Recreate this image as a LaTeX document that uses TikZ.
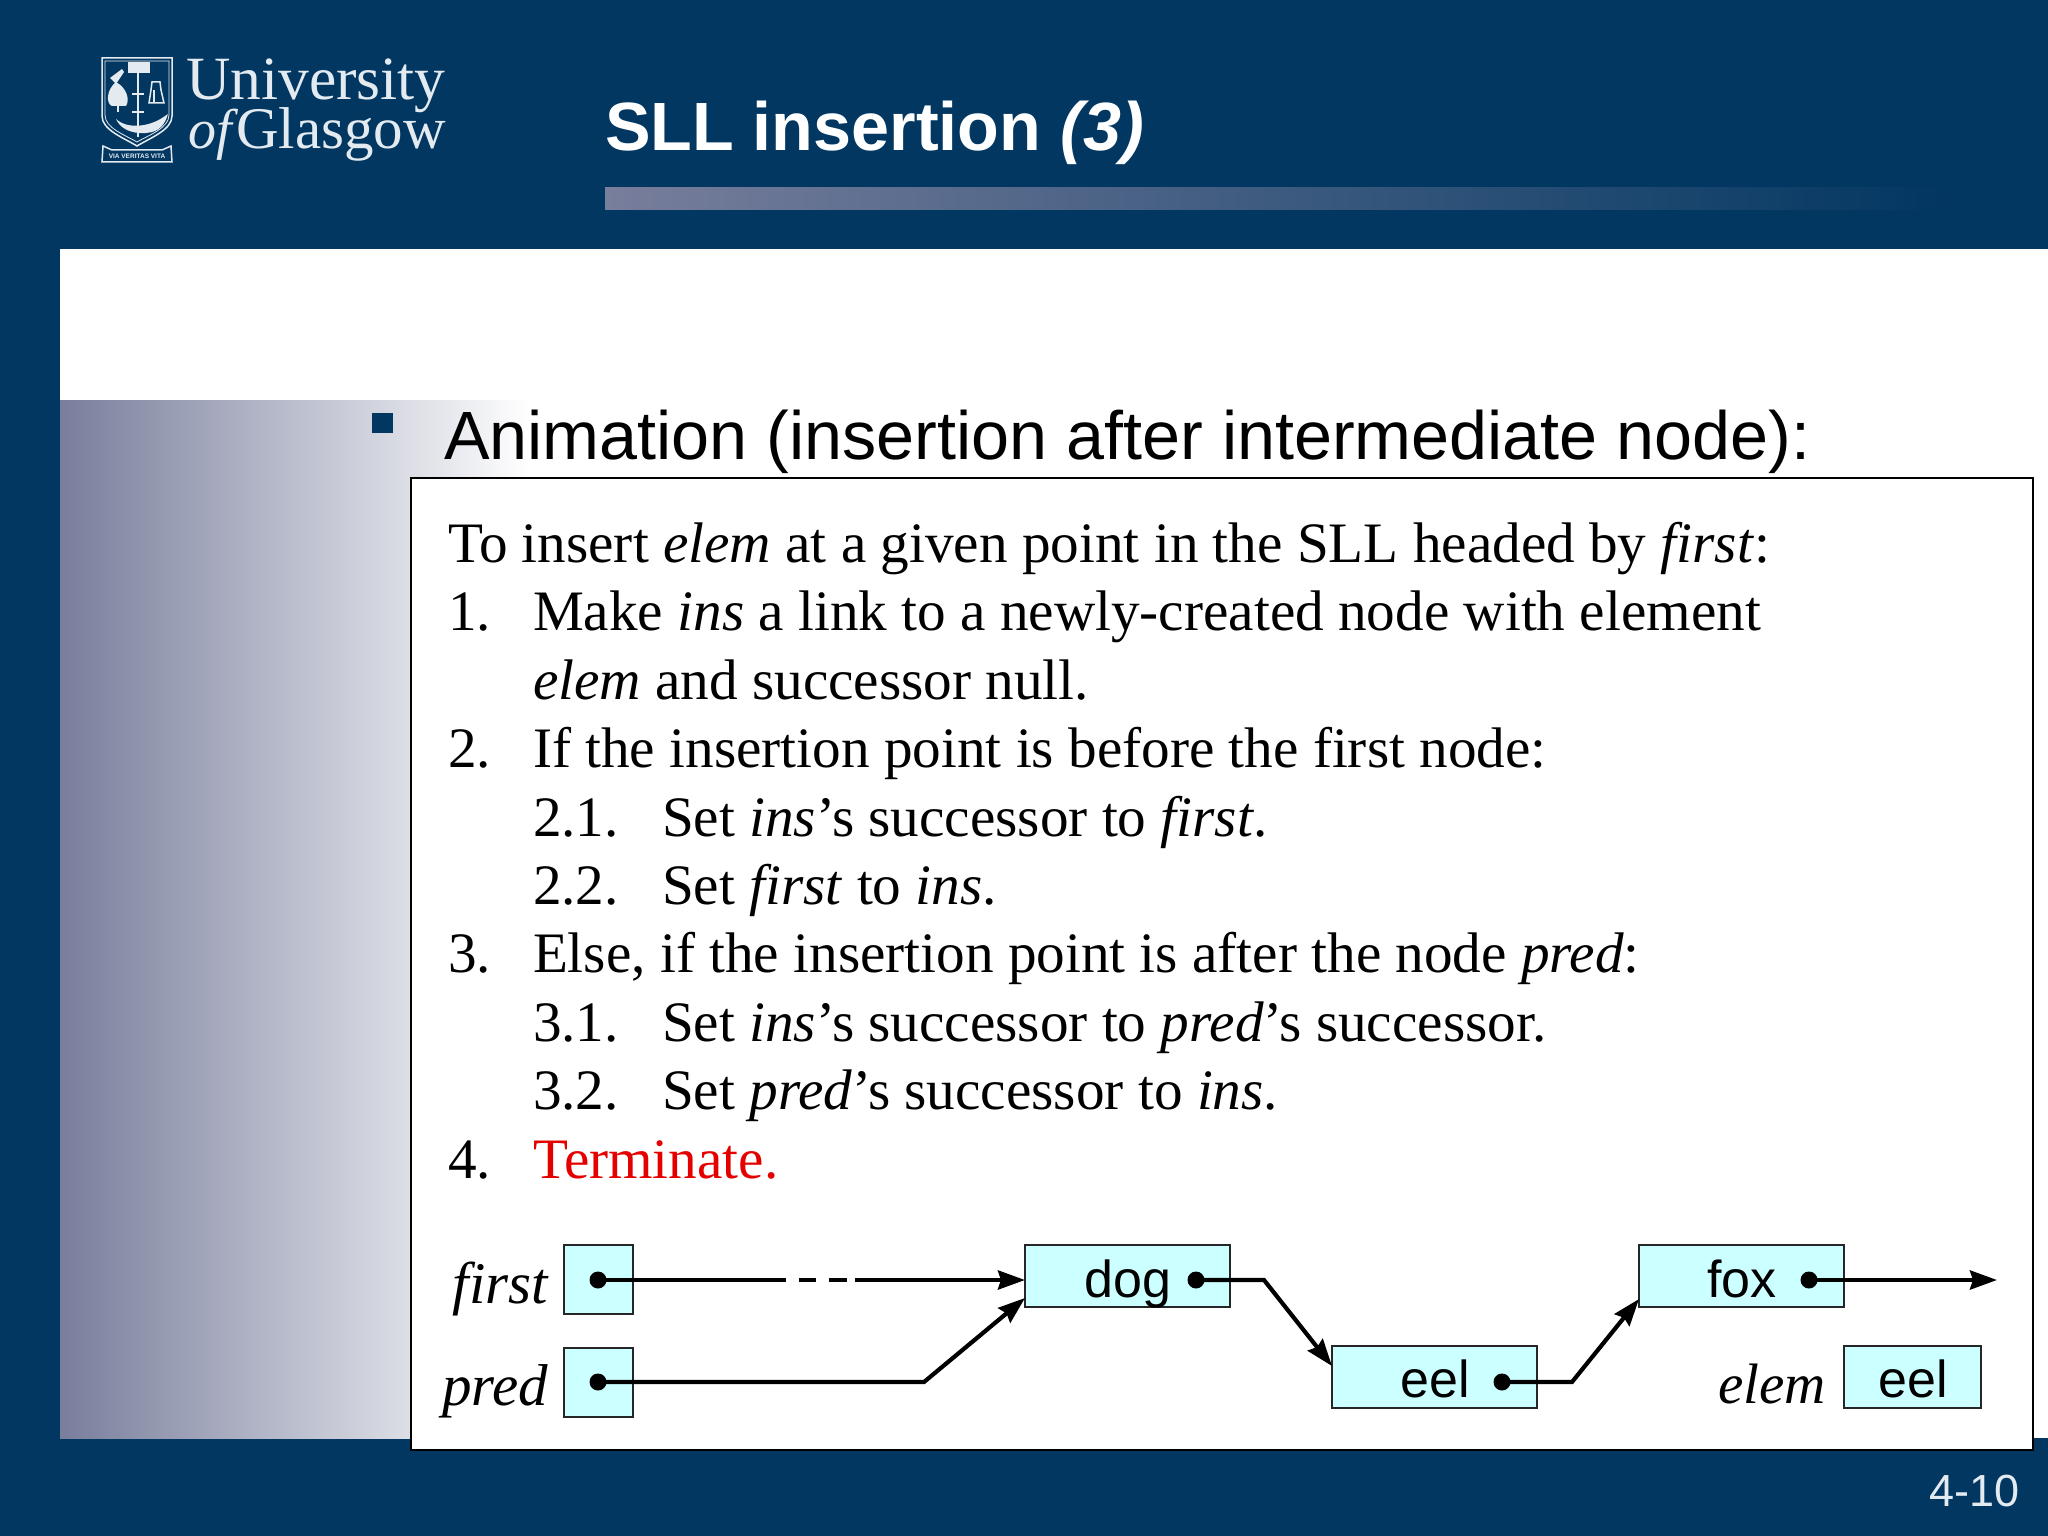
\documentclass[tikz,border=0pt]{standalone}
\usepackage{fontspec}
\setmainfont{Liberation Serif}
\setsansfont{Liberation Sans}
\usetikzlibrary{arrows.meta,calc}
\definecolor{navy}{HTML}{023762}
\definecolor{barblue}{HTML}{787E9C}
\definecolor{cellcyan}{HTML}{CCFFFF}
\definecolor{crest}{HTML}{E3EAF0}
\newcommand{\fsz}[1]{\fontsize{#1}{#1}\selectfont}
\tikzset{
  x=1pt,y=-1pt,
  every node/.style={inner sep=0pt,outer sep=0pt},
  bodyline/.style={anchor=base west,font=\fsz{57.2}\rmfamily,text=black},
  cell/.style={draw=black!85,line width=2.6pt,fill=cellcyan},
  celltext/.style={anchor=base,font=\fsz{52}\sffamily,text=black},
  varname/.style={anchor=base east,font=\fsz{59}\rmfamily\itshape,text=black},
  dotmark/.style={circle,fill=black,minimum size=17pt},
  linkline/.style={line width=4.2pt,black,line join=miter},
  linkarrow/.style={linkline,-{Stealth[length=27pt,width=19pt,inset=3pt]}},
  crestline/.style={draw=crest,line width=1.5pt},
  crestfill/.style={fill=crest},
}
\begin{document}
\begin{tikzpicture}
\useasboundingbox (0,0) rectangle (2048,1536);
% slide background
\fill[navy] (0,0) rectangle (2048,1536);
\fill[white] (60,249) rectangle (2048,1438);
\shade[left color=barblue,right color=white,draw=none] (60,400) rectangle (530,1438);
\shade[left color=barblue,right color=navy,draw=none] (605,187) rectangle (1945,209);
% logo: shield
\draw[crestline] (102,58) -- (172,58) -- (172,116) .. controls (172,130) and (150,138) .. (137,146) .. controls (124,138) and (102,130) .. (102,116) -- cycle;
\draw[crest,line width=.8pt] (105,61) -- (169,61) -- (169,115) .. controls (169,128) and (149,135) .. (137,142) .. controls (125,135) and (105,128) .. (105,115) -- cycle;
% book and stem
\fill[crestfill] (128,62) rectangle (150,73);
\draw[crestline,line width=2.6pt] (138,73) -- (138,137);
\draw[crestline] (132,94) -- (144,94);
\draw[crestline] (132,112) -- (144,112);
% tree and bird
\fill[crestfill] (116,82) .. controls (106,90) and (106,104) .. (112,106) -- (126,106) .. controls (130,100) and (127,88) .. (116,82) -- cycle;
\draw[crestline] (118,104) -- (118,112);
\fill[crestfill] (110,78) -- (122,69) -- (124,72) -- (116,84) -- cycle;
% bell
\draw[crestline] (152,82) -- (160,82) -- (161,90) -- (164,103) -- (149,103) -- (151,90) -- cycle;
\fill[crestfill] (153,90) rectangle (155,103);
% fish
\fill[crestfill] (116,119) .. controls (128,130) and (150,126) .. (162,118) -- (168,114) .. controls (165,124) and (160,132) .. (146,133) .. controls (130,134) and (120,128) .. (116,119) -- cycle;
% motto scroll
\draw[crestline] (103,146) -- (112,150) -- (162,150) -- (171,146) -- (172,162) -- (102,162) -- cycle;
\node[font=\fsz{6.5}\sffamily\bfseries,text=crest] (logomotto) at (137,156.5) {VIA VERITAS VITA};
\node[anchor=base west,font=\fsz{61.5}\rmfamily,text=crest] (logouni) at (186,100) {University};
\node[anchor=base west,font=\fsz{56}\rmfamily\itshape,text=crest] (logoof) at (188,149) {of};
\node[anchor=base west,font=\fsz{59}\rmfamily,text=crest] (logogla) at (236,149) {Glasgow};
% title
\node[anchor=base west,font=\fsz{68.3}\sffamily\bfseries,text=white] (title) at (605,150) {SLL insertion \textit{(3)}};
\node[anchor=base east,font=\fsz{45}\sffamily,text=crest] (pagenum) at (2020,1506) {4-10};
% bullet
\fill[navy] (372,413) rectangle (393,433);
\node[anchor=base west,font=\fsz{68.3}\sffamily,text=black] (heading) at (444,459) {Animation (insertion after intermediate node):};
% algorithm box
\draw[fill=white,draw=black,line width=2.6pt] (411,478) rectangle (2033,1450);
\node[bodyline] (l0) at (448,562.5) {To insert \textit{elem} at a given point in the SLL headed by \textit{first}:};
\node[bodyline] (n1) at (448,630.5) {1.};
\node[bodyline] (l1) at (533,630.5) {Make \textit{ins} a link to a newly-created node with element};
\node[bodyline] (l1b) at (533,699.5) {\textit{elem} and successor null.};
\node[bodyline] (n2) at (448,767.5) {2.};
\node[bodyline] (l2) at (533,767.5) {If the insertion point is before the first node:};
\node[bodyline] (n21) at (533,836.5) {2.1.};
\node[bodyline] (l21) at (662,836.5) {Set \textit{ins}’s successor to \textit{first}.};
\node[bodyline] (n22) at (533,904.5) {2.2.};
\node[bodyline] (l22) at (662,904.5) {Set \textit{first} to \textit{ins}.};
\node[bodyline] (n3) at (448,972.5) {3.};
\node[bodyline] (l3) at (533,972.5) {Else, if the insertion point is after the node \textit{pred}:};
\node[bodyline] (n31) at (533,1041.5) {3.1.};
\node[bodyline] (l31) at (662,1041.5) {Set \textit{ins}’s successor to \textit{pred}’s successor.};
\node[bodyline] (n32) at (533,1109.5) {3.2.};
\node[bodyline] (l32) at (662,1109.5) {Set \textit{pred}’s successor to \textit{ins}.};
\node[bodyline] (n4) at (448,1178) {4.};
\node[bodyline,text=red!90!black] (l4) at (533,1178) {Terminate.};
% cells
\path[cell] (564,1245) rectangle (633,1314);
\path[cell] (564,1348) rectangle (633,1417);
\path[cell] (1025,1245) rectangle (1230,1307);
\path[cell] (1332,1346) rectangle (1537,1408);
\path[cell] (1639,1245) rectangle (1844,1307);
\path[cell] (1844,1346) rectangle (1981,1408);
% labels
\node[varname] (lfirst) at (548,1303) {first};
\node[varname] (lpred) at (548,1405) {pred};
\node[varname,font=\fsz{57}\rmfamily\itshape] (lelem) at (1826,1403) {elem};
\node[celltext] (tdog) at (1128,1297) {dog};
\node[celltext] (teel) at (1435,1397) {eel};
\node[celltext] (tfox) at (1742,1297) {fox};
\node[celltext] (telem) at (1913,1397) {eel};
% dots
\node[dotmark] (dfirst) at (598,1280) {};
\node[dotmark] (dpred) at (598,1382) {};
\node[dotmark] (ddog) at (1196,1280) {};
\node[dotmark] (deel) at (1502,1382) {};
\node[dotmark] (dfox) at (1809,1280) {};
% connector points
\coordinate (firstdash) at (786,1280);
\coordinate (firstdashb) at (855,1280);
\coordinate (dogin) at (1025,1280);
\coordinate (dogdiag) at (1025,1298);
\coordinate (predbend) at (924,1382);
\coordinate (dogbend) at (1264,1280);
\coordinate (eelin) at (1332,1366);
\coordinate (eelbend) at (1572,1382);
\coordinate (foxin) at (1639,1299);
\coordinate (foxend) at (1997,1280);
\coordinate (dashone) at (799,1280);
\coordinate (dashoneb) at (816,1280);
\coordinate (dashtwo) at (829,1280);
\coordinate (dashtwob) at (847,1280);
% connectors
\draw[linkline] (dfirst.center) -- (firstdash);
\draw[linkline] (dashone) -- (dashoneb);
\draw[linkline] (dashtwo) -- (dashtwob);
\draw[linkarrow] (firstdashb) -- (dogin);
\draw[linkarrow] (dpred.center) -- (predbend) -- (dogdiag);
\draw[linkarrow] (ddog.center) -- (dogbend) -- (eelin);
\draw[linkarrow] (deel.center) -- (eelbend) -- (foxin);
\draw[linkarrow] (dfox.center) -- (foxend);
\end{tikzpicture}
\end{document}
